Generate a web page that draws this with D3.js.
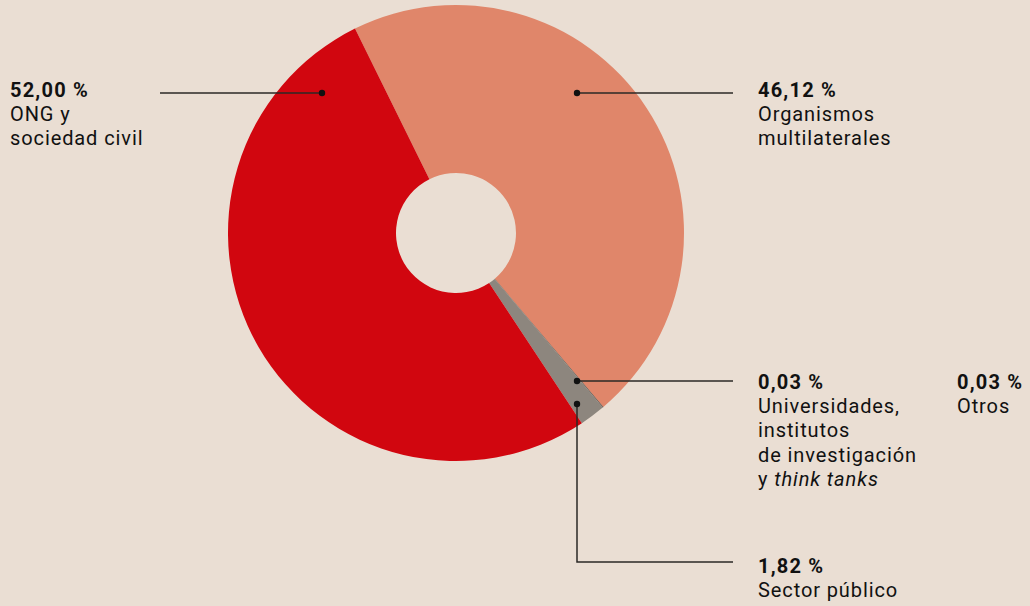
<!DOCTYPE html>
<html>
<head>
<meta charset="utf-8">
<script src="https://cdn.jsdelivr.net/npm/d3@7"></script>
<style>
  body { margin: 0; background: #eaded3; }
  svg { display: block; }
  text { font-family: Roboto, "Liberation Sans", sans-serif; font-size: 20px; letter-spacing: 0.9px; fill: #111; }
  .pct { font-weight: bold; letter-spacing: 1.2px; }
</style>
</head>
<body>
<div id="chart"></div>
<script>
// Data
let categories = ['Organismos multilaterales', 'Universidades', 'Otros', 'Sector público', 'ONG y sociedad civil'];
let values = [46.12, 0.03, 0.03, 1.82, 52.0];
let pctLabels = ['46,12 %', '0,03 %', '0,03 %', '1,82 %', '52,00 %'];
let colors = ['#e0866a', '#3d3833', '#3d3833', '#8d867e', '#d1060f'];

// Layout
let width = 1030;
let height = 606;
let cx = 456;
let cy = 233;
let outerR = 228;
let innerR = 60;
let start = -26.3 * Math.PI / 180;

let svg = d3.select('#chart').append('svg').attr('width', width).attr('height', height);

let pie = d3
  .pie()
  .sort(null)
  .startAngle(start)
  .endAngle(start + 2 * Math.PI);

let arc = d3.arc().innerRadius(innerR).outerRadius(outerR);

let g = svg.append('g').attr('transform', 'translate(' + cx + ',' + cy + ')');

g.selectAll('path')
  .data(pie(values))
  .enter()
  .append('path')
  .attr('d', arc)
  .style('fill', function (d, i) {
    return colors[i];
  });

// leader lines: dot point, then path points
let leaders = [
  { dot: [577, 93], pts: [[577, 93], [733, 93]] },
  { dot: [577, 381], pts: [[577, 381], [733, 381]] },
  { dot: [577, 404], pts: [[577, 404], [577, 562], [733, 562]] },
  { dot: [322, 93], pts: [[322, 93], [160, 93]] },
];

let line = d3.line();

leaders.forEach(function (l) {
  svg
    .append('path')
    .attr('d', line(l.pts))
    .style('fill', 'none')
    .style('stroke', '#2b2826')
    .style('stroke-width', 1.5);
  svg
    .append('circle')
    .attr('cx', l.dot[0])
    .attr('cy', l.dot[1])
    .attr('r', 3.2)
    .style('fill', '#111');
});

// labels
let labels = [
  { i: 0, x: 758, y: 97, lines: [['Organismos'], ['multilaterales']] },
  { i: 1, x: 758, y: 389, lines: [['Universidades,'], ['institutos'], ['de investigación'], ['y ', 'think tanks']] },
  { i: 2, x: 957, y: 389, lines: [['Otros']] },
  { i: 3, x: 758, y: 573, lines: [['Sector público']] },
  { i: 4, x: 10, y: 97, lines: [['ONG y'], ['sociedad civil']] },
];

let lh = 24.2;

labels.forEach(function (lab) {
  svg.append('text').attr('class', 'pct').attr('x', lab.x).attr('y', lab.y).text(pctLabels[lab.i]);
  lab.lines.forEach(function (parts, k) {
    let t = svg.append('text').attr('x', lab.x).attr('y', lab.y + lh * (k + 1));
    parts.forEach(function (p, j) {
      let s = t.append('tspan').text(p);
      if (j == 1) s.style('font-style', 'italic');
    });
  });
});
</script>
</body>
</html>
